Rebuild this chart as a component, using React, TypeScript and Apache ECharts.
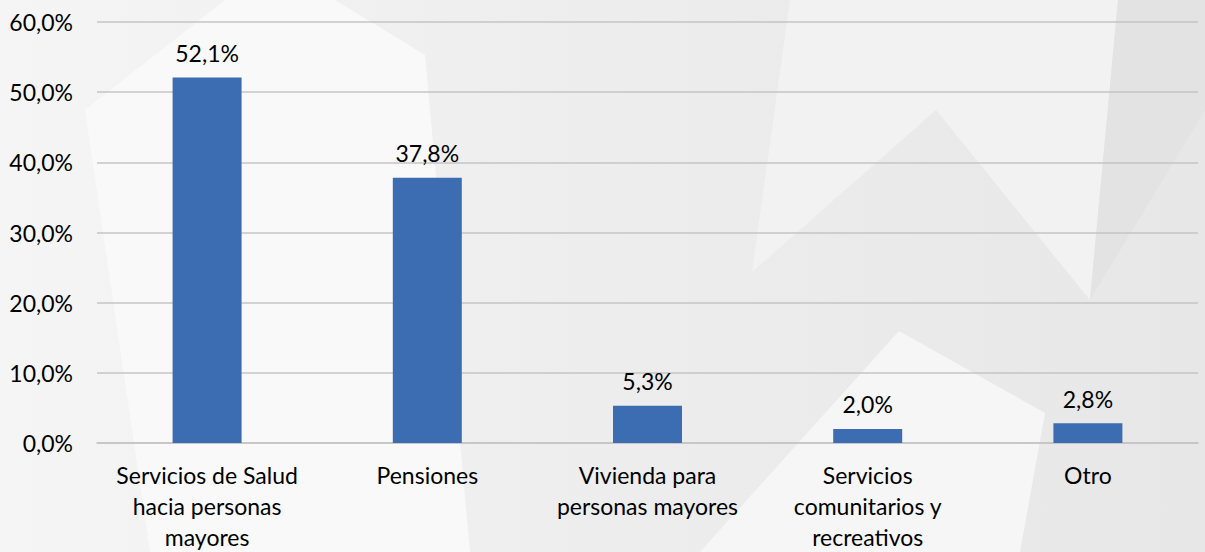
import React, { useEffect, useRef } from "react";
import * as echarts from "echarts";

const categories = [
  "Servicios de Salud\nhacia personas\nmayores",
  "Pensiones",
  "Vivienda para\npersonas mayores",
  "Servicios\ncomunitarios y\nrecreativos",
  "Otro",
];
const values = [52.1, 37.8, 5.3, 2.0, 2.8];
const yTicks = { min: 0, max: 60, interval: 10 };

const fmt = (v: number) => v.toFixed(1).replace(".", ",") + "%";

export default function App() {
  const ref = useRef<HTMLDivElement>(null);
  useEffect(() => {
    if (!ref.current) return;
    const chart = echarts.init(ref.current, undefined, { renderer: "svg" });
    const font = "Lato, 'Open Sans', sans-serif";
    chart.setOption({
      animation: false,
      backgroundColor: "#ebebeb",
      graphic: [
        {
          type: "rect",
          z: -10,
          shape: { x: 0, y: 0, width: 1205, height: 552 },
          style: {
            fill: new echarts.graphic.LinearGradient(0, 0, 1, 0, [
              { offset: 0, color: "#f5f5f5" },
              { offset: 0.45, color: "#eeeeee" },
              { offset: 1, color: "#e7e7e7" },
            ]),
          },
        },
        {
          type: "polygon",
          z: -9,
          shape: { points: [[225, 0], [335, 0], [425, 55], [470, 552], [150, 552], [85, 110]] },
          style: { fill: "#f9f9f9" },
        },
        {
          type: "polygon",
          z: -9,
          shape: { points: [[790, 0], [1118, 0], [1090, 300], [936, 110], [752, 272]] },
          style: { fill: "#f2f2f2" },
        },
        {
          type: "polygon",
          z: -9,
          shape: { points: [[899, 331], [1045, 413], [1020, 552], [700, 552]] },
          style: { fill: "#f6f6f6" },
        },
        {
          type: "polygon",
          z: -9,
          shape: { points: [[1118, 0], [1205, 0], [1205, 110], [1090, 300]] },
          style: { fill: "#e3e3e3" },
        },
      ],
      grid: { left: 97, right: 7, top: 22, bottom: 108 },
      xAxis: {
        type: "category",
        data: categories,
        axisLine: { show: true, lineStyle: { color: "#c4c4c4", width: 1.5 } },
        axisTick: { show: false },
        axisLabel: {
          interval: 0,
          margin: 16,
          color: "#000",
          fontFamily: font,
          fontSize: 23,
          lineHeight: 31,
        },
      },
      yAxis: {
        type: "value",
        min: yTicks.min,
        max: yTicks.max,
        interval: yTicks.interval,
        axisLine: { show: false },
        axisTick: { show: false },
        splitLine: { lineStyle: { color: "#c4c4c4", width: 1.5 } },
        axisLabel: {
          margin: 24,
          color: "#000",
          fontFamily: font,
          fontSize: 23,
          formatter: (v: number) => fmt(v),
        },
      },
      series: [
        {
          type: "bar",
          data: values,
          barWidth: 69,
          itemStyle: { color: "#3c6db2" },
          label: {
            show: true,
            position: "top",
            distance: 13,
            color: "#000",
            fontFamily: font,
            fontSize: 23,
            formatter: (p: any) => fmt(p.value),
          },
        },
      ],
    });
    return () => chart.dispose();
  }, []);
  return (
    <div
      ref={ref}
      style={{ position: "fixed", left: 0, top: 0, width: 1205, height: 552 }}
    />
  );
}
